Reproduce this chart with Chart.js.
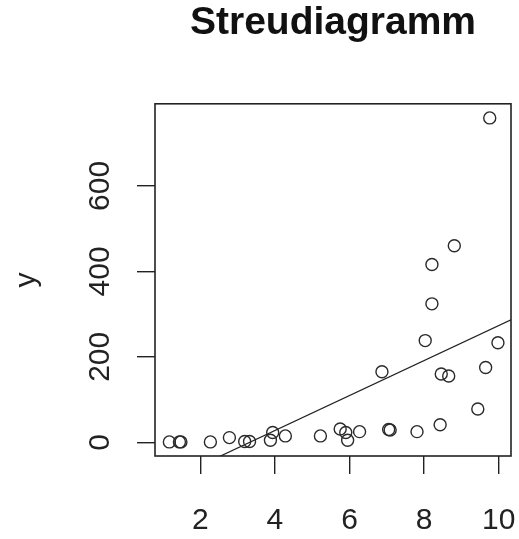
<!DOCTYPE html>
<html>
<head>
<meta charset="utf-8">
<title>Streudiagramm</title>
<script src="https://cdn.jsdelivr.net/npm/chart.js@4/dist/chart.umd.min.js"></script>
<style>
	html, body { margin: 0; padding: 0; background: #fff; }
	#myChart { display: block; }
</style>
</head>
<body>
<canvas id="myChart" width="519" height="539"></canvas>
<script>
// values
var xValues = [1.17, 1.44, 1.48, 2.27, 2.78, 3.19, 3.32, 3.88, 3.94, 4.28,
	5.22, 5.75, 5.90, 5.95, 6.27, 6.87, 7.05, 7.09, 7.81, 8.03,
	8.21, 8.21, 8.43, 8.46, 8.66, 8.81, 9.44, 9.65, 9.76, 9.98];
var yValues = [1, 1, 1, 1, 11, 2, 2, 5, 23, 15,
	15, 31, 23, 5, 25, 165, 30, 29, 25, 238,
	416, 324, 41, 160, 155, 460, 78, 175, 759, 233];
var xTicks = [2, 4, 6, 8, 10];
var yTicks = [0, 200, 400, 600];
// regression line y = a + b*x
var fitIntercept = -136;
var fitSlope = 40.9;

var xMin = 0.785, xMax = 10.33;
var yMin = -32, yMax = 792;

var points = [];
for (var i = 0; i < xValues.length; i++) {
	points.push({ x: xValues[i], y: yValues[i] });
}
var fitLine = [
	{ x: xMin, y: fitIntercept + fitSlope * xMin },
	{ x: xMax, y: fitIntercept + fitSlope * xMax }
];

function setTicks(values) {
	return function (scale) {
		scale.ticks = values.map(function (v) { return { value: v }; });
	};
}

// no extra room for the end labels, the plot box is fixed
function fixSize(w, h) {
	return function (scale) {
		if (w) scale.width = w;
		if (h) scale.height = h;
		scale.paddingLeft = 0;
		scale.paddingRight = 0;
		scale.paddingTop = 0;
		scale.paddingBottom = 0;
	};
}

// R style box round the plot region
var boxPlugin = {
	id: 'box',
	afterDraw: function (chart) {
		var a = chart.chartArea;
		var c = chart.ctx;
		c.save();
		c.strokeStyle = '#222';
		c.lineWidth = 1.6;
		c.strokeRect(a.left, a.top, a.right - a.left, a.bottom - a.top);
		c.restore();
	}
};

Chart.defaults.font.family = '"Liberation Sans", Arial, sans-serif';
Chart.defaults.color = '#222';

var ctx = document.getElementById('myChart').getContext('2d');
var myChart = new Chart(ctx, {
	type: 'scatter',
	data: {
		datasets: [{
			data: points,
			pointRadius: 6,
			pointHoverRadius: 6,
			pointBorderWidth: 1.4,
			pointBorderColor: '#2a2a2a',
			pointBackgroundColor: 'rgba(0,0,0,0)'
		}, {
			type: 'line',
			data: fitLine,
			borderColor: '#222',
			borderWidth: 1.2,
			pointRadius: 0,
			fill: false
		}]
	},
	options: {
		responsive: false,
		animation: false,
		layout: { padding: { left: 0, right: 8, top: 0, bottom: 0 } },
		plugins: {
			legend: { display: false },
			tooltip: { enabled: false },
			title: {
				display: true,
				text: 'Streudiagramm',
				fullSize: false,
				color: '#111',
				font: { size: 39, weight: 'bold' },
				padding: { top: 0, bottom: 57 }
			}
		},
		scales: {
			x: {
				type: 'linear',
				min: xMin,
				max: xMax,
				afterBuildTicks: setTicks(xTicks),
				afterFit: fixSize(0, 83),
				grid: { drawOnChartArea: false, drawTicks: true, tickLength: 18, color: '#222', lineWidth: 1.4 },
				border: { display: false },
				ticks: { font: { size: 30 }, padding: 29, maxRotation: 0, autoSkip: false }
			},
			y: {
				type: 'linear',
				min: yMin,
				max: yMax,
				afterBuildTicks: setTicks(yTicks),
				afterFit: fixSize(155, 0),
				grid: { drawOnChartArea: false, drawTicks: true, tickLength: 18, color: '#222', lineWidth: 1.4 },
				border: { display: false },
				ticks: { font: { size: 30 }, padding: 11, minRotation: 90, maxRotation: 90, crossAlign: 'center', autoSkip: false },
				title: { display: true, text: 'y', font: { size: 30 }, padding: { top: 9, bottom: 0 } }
			}
		}
	},
	plugins: [boxPlugin]
});
</script>
</body>
</html>
